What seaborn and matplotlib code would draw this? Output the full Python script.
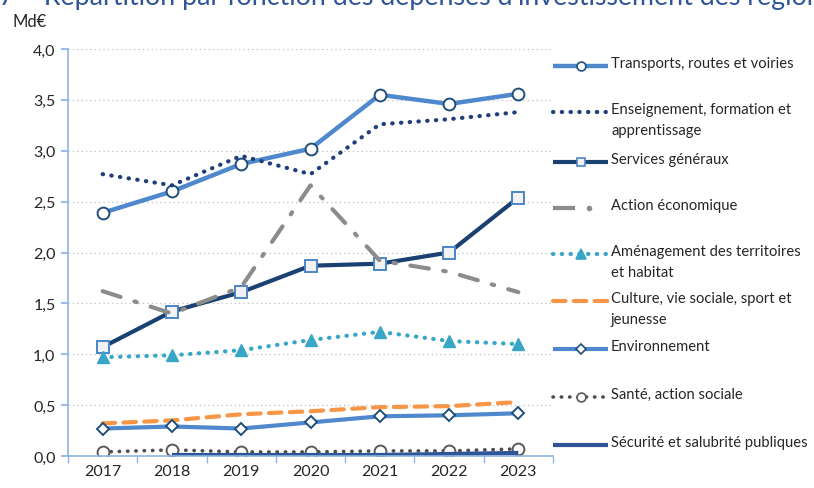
import matplotlib
matplotlib.use("Agg")
import matplotlib.pyplot as plt
import seaborn as sns
import numpy as np
import pandas as pd

years = ["2017", "2018", "2019", "2020", "2021", "2022", "2023"]
transports = [2.39, 2.60, 2.87, 3.02, 3.55, 3.46, 3.56]
enseignement = [2.77, 2.66, 2.95, 2.77, 3.26, 3.31, 3.38]
services = [1.07, 1.42, 1.61, 1.87, 1.89, 2.00, 2.54]
action_eco = [1.62, 1.40, 1.66, 2.66, 1.92, 1.81, 1.61]
amenagement = [0.97, 0.99, 1.04, 1.14, 1.22, 1.13, 1.10]
culture = [0.32, 0.35, 0.41, 0.44, 0.48, 0.49, 0.53]
environnement = [0.27, 0.29, 0.27, 0.33, 0.39, 0.40, 0.42]
sante = [0.04, 0.06, 0.04, 0.04, 0.05, 0.05, 0.07]
securite = [np.nan, 0.01, 0.01, 0.01, 0.01, 0.02, 0.03]
yticks = [0.0, 0.5, 1.0, 1.5, 2.0, 2.5, 3.0, 3.5, 4.0]

labels = ["Transports, routes et voiries",
          "Enseignement, formation et\napprentissage",
          "Services généraux",
          "Action économique",
          "Aménagement des territoires\net habitat",
          "Culture, vie sociale, sport et\njeunesse",
          "Environnement",
          "Santé, action sociale",
          "Sécurité et salubrité publiques"]

sns.set_theme(style="white")
FONT = ["Lato", "DejaVu Sans"]
plt.rcParams["font.family"] = FONT

W, H = 814, 489
fig = plt.figure(figsize=(W / 100, H / 100), dpi=100)
L, R, B, T = 68, 553, 457, 50
ax = fig.add_axes([L / W, 1 - B / H, (R - L) / W, (B - T) / H])

x = np.arange(len(years))
styles = [
    dict(data=transports, color="#4f88cc", lw=3.2, ls="-", marker="o", ms=8.5, mfc="white", mec="#1f4e79", mew=1.4),
    dict(data=enseignement, color="#1f3f7a", lw=3.0, ls=(0, (0.1, 2.0)), marker=None),
    dict(data=services, color="#1a4171", lw=3.0, ls="-", marker="s", ms=8.5, mfc="#f2f2f2", mew=1.4, mec="#4a86c8"),
    dict(data=action_eco, color="#8c8c8c", lw=3.0, ls=(0, (4.5, 3.5, 0.6, 3.5)), marker=None),
    dict(data=amenagement, color="#38a6c6", lw=3.0, ls=(0, (0.1, 2.0)), marker="^", ms=9, mfc="#38a6c6", mec="#38a6c6", mew=1),
    dict(data=culture, color="#f79646", lw=3.0, ls=(0, (3.0, 2.0)), marker=None),
    dict(data=environnement, color="#4f88cc", lw=3.0, ls="-", marker="D", ms=6.5, mfc="white", mec="#1f4e79", mew=1.4),
    dict(data=sante, color="#4d4d4d", lw=2.6, ls=(0, (0.1, 2.2)), marker="o", ms=8.5, mfc="white", mec="#595959", mew=1.4),
    dict(data=securite, color="#2e5597", lw=3.0, ls="-", marker=None),
]

for st in styles:
    df = pd.DataFrame({"x": x, "y": st["data"]})
    kw = {}
    if st["marker"]:
        kw = dict(marker=st["marker"], markersize=st["ms"], markerfacecolor=st["mfc"],
                  markeredgecolor=st["mec"], markeredgewidth=st["mew"])
    sns.lineplot(data=df, x="x", y="y", ax=ax, color=st["color"], linewidth=st["lw"], **kw)
    ln = ax.lines[-1]
    ln.set_linestyle(st["ls"])
    ln.set_dash_capstyle("round")
    ln.set_solid_capstyle("butt")

ax.set_xlim(-0.5, 6.5)
ax.set_ylim(0, 4.0)
ax.set_yticks(yticks)
ax.set_yticklabels([f"{v:.1f}".replace(".", ",") for v in yticks], fontsize=11.5, color="#262626")
ax.set_xticks(x)
ax.set_xticklabels(years, fontsize=11.5, color="#262626")
ax.set_xticks(np.arange(-0.5, 7, 1), minor=True)
ax.tick_params(axis="x", which="major", length=0, pad=6)
ax.tick_params(axis="x", which="minor", length=5, color="#8eb4e3", direction="out", bottom=True)
ax.tick_params(axis="y", which="major", length=5, color="#8eb4e3", direction="out", left=True, pad=4)
ax.set_xlabel("")
ax.set_ylabel("")
for s in ["top", "right"]:
    ax.spines[s].set_visible(False)
for s in ["left", "bottom"]:
    ax.spines[s].set_color("#8eb4e3")
    ax.spines[s].set_linewidth(1.2)
ax.yaxis.grid(True, linestyle=(0, (1, 2.5)), color="#bfbfbf", linewidth=0.9)
ax.set_axisbelow(True)
ax.patch.set_alpha(0)

# Legend (manual, pixel coordinates)
lax = fig.add_axes([0, 0, 1, 1], zorder=-1)
lax.set_xlim(0, W)
lax.set_ylim(H, 0)
lax.axis("off")
lax.patch.set_alpha(0)
rows = [67, 113, 163, 209, 255, 302, 350, 398, 446]
hx0, hx1, tx = 553, 608, 611
for st, lab, yy in zip(styles, labels, rows):
    if st is styles[3]:
        lax.plot([hx0, hx0 + 22], [yy, yy], color=st["color"], lw=st["lw"], solid_capstyle="butt")
        lax.plot([hx0 + 36], [yy], "o", color=st["color"], ms=3)
    else:
        lax.plot([hx0, hx1], [yy, yy], color=st["color"], lw=st["lw"], ls=st["ls"],
                 dash_capstyle="round", solid_capstyle="butt")
        if st["marker"]:
            ms = st["ms"] * (0.75 if st["marker"] != "^" else 0.85)
            lax.plot([(hx0 + hx1) / 2], [yy], marker=st["marker"], ms=ms, mfc=st["mfc"],
                     mec=st["mec"], mew=1.2, ls="none")
    lax.text(tx, yy - 10, lab, fontsize=10.6, color="#262626", va="top", ha="left",
             linespacing=1.6)

fig.text(12 / W, 1 - 22 / H, "Md€", fontsize=12, color="#262626", va="center", ha="left")
fig.text(-22 / W, 1 - 5 / H, "e 7 – Répartition par fonction des dépenses d'investissement des régions",
         fontsize=19.3, color="#2f5597", va="baseline", ha="left")

fig.savefig("out.png", dpi=100)
